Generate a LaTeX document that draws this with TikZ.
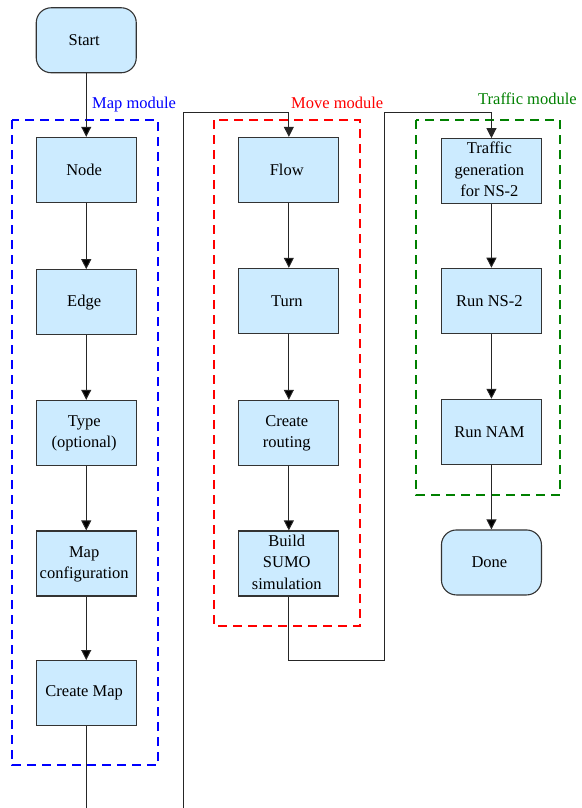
\documentclass[tikz,border=0pt]{standalone}
\usepackage{fontspec}
\setmainfont{Liberation Serif}
\usetikzlibrary{matrix, arrows.meta}
\definecolor{boxfill}{RGB}{204,235,255}
\definecolor{boxline}{RGB}{51,51,51}
\definecolor{trafficgreen}{RGB}{0,128,0}
\newcommand{\stacked}[1]{\begin{tabular}{@{}c@{}}#1\end{tabular}}

\begin{document}
\begin{tikzpicture}[x=1pt, y=1pt,
        every node/.style={font=\rmfamily\fontsize{16.5}{21.5}\selectfont},
        stepbox/.style={draw=boxline, line width=1.1pt, fill=boxfill, minimum width=100pt, minimum height=65pt, align=center, inner sep=0pt},
        endbox/.style={stepbox, rounded corners=15pt},
        module/.style={line width=2.5pt, dash pattern=on 9pt off 6pt},
        modlabel/.style={anchor=base west, inner sep=0pt},
        line/.style={draw=black!85, line width=1pt},
        link/.style={line, -{Triangle[length=10pt, width=10pt]}}]
        \useasboundingbox (0,0) rectangle (581,-808);
        % module frames
        \draw[module, blue] (12,-120) rectangle (158,-765);
        \draw[module, red] (214,-120) rectangle (360,-626);
        \draw[module, trafficgreen] (416,-120) rectangle (560,-495);
        \node[modlabel, text=blue] (maplabel) at (92,-108) {Map module};
        \node[modlabel, text=red] (movelabel) at (291,-108) {Move module};
        \node[modlabel, text=trafficgreen] (trafficlabel) at (478,-104) {Traffic module};
        \matrix (m) [matrix of nodes, row sep=63.5pt, column sep=101.5pt, nodes={stepbox}, inner sep=0pt, anchor=north west] at (35.5,-7)
        {
            |[endbox]| Start & & \\
            Node & Flow & \stacked{Traffic\\generation\\for NS-2} \\
            Edge & Turn & Run NS-2 \\
            \stacked{Type\\(optional)} & \stacked{Create\\routing} & Run NAM \\
            \stacked{Map\\configuration} & \stacked{Build\\SUMO\\simulation} & |[endbox]| Done \\
            Create Map & & \\
        };
        \coordinate (cut1) at (m-6-1 |- 0,-808);
        \coordinate (cut2) at (183,-808);
        \coordinate (turn2) at (183,-112);
        \coordinate (back3) at (384,-660);
        \coordinate (turn3) at (384,-112);
        \path[link]
        (m-1-1) edge (m-2-1)
        (m-2-1) edge (m-3-1)
        (m-3-1) edge (m-4-1)
        (m-4-1) edge (m-5-1)
        (m-5-1) edge (m-6-1)
        (m-2-2) edge (m-3-2)
        (m-3-2) edge (m-4-2)
        (m-4-2) edge (m-5-2)
        (m-2-3) edge (m-3-3)
        (m-3-3) edge (m-4-3)
        (m-4-3) edge (m-5-3);
        \draw[line] (m-6-1) -- (cut1);
        \draw[link] (cut2) -- (turn2) -| (m-2-2);
        \draw[link] (m-5-2) |- (back3) -- (turn3) -| (m-2-3);
    \end{tikzpicture}
\end{document}
